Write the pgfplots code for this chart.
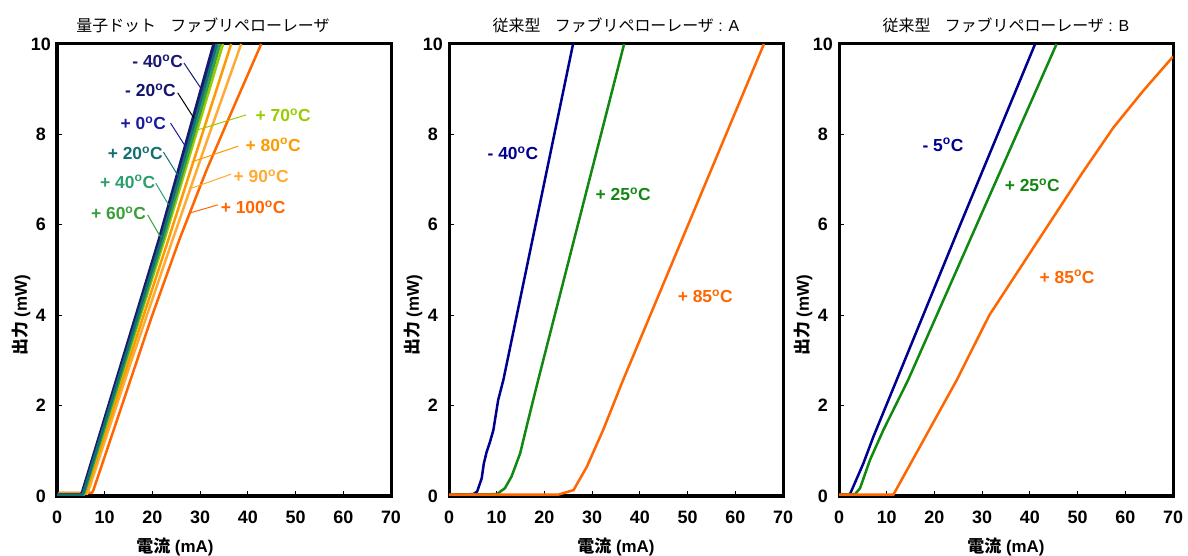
\documentclass[border=0pt]{standalone}
\usepackage{fontspec}
\setmainfont{Liberation Sans}
\newfontfamily\jp{Noto Sans CJK JP}
\usepackage{pgfplots}
\pgfplotsset{compat=1.18}
\newcommand{\dC}{\textsuperscript{o}C}
\definecolor{cA}{HTML}{191970}
\definecolor{cB}{HTML}{14146E}
\definecolor{cC}{HTML}{1A1AA0}
\definecolor{cD}{HTML}{137070}
\definecolor{cE}{HTML}{2E9E6E}
\definecolor{cF}{HTML}{3A9E3A}
\definecolor{cG}{HTML}{99CC00}
\definecolor{cH}{HTML}{FF9900}
\definecolor{cI}{HTML}{FFAA33}
\definecolor{cJ}{HTML}{FF6600}
\definecolor{mnavy}{HTML}{000090}
\definecolor{mgreen}{HTML}{118811}
\definecolor{morange}{HTML}{FF6600}
\tikzset{lbl/.style={font=\fontsize{17.5}{17.5}\selectfont\bfseries, inner sep=0pt}}
\pgfplotsset{panel/.style={
  scale only axis, width=334bp, height=452bp,
  xmin=0,xmax=70,ymin=0,ymax=10,
  xtick={0,10,...,70}, ytick={0,2,...,10},
  tick align=inside, xtick pos=bottom, ytick pos=left,
  major tick length=5bp,
  axis line style={line width=3bp},
  every tick/.style={black, line width=1bp},
  /pgf/number format/assume math mode=true,
  tick label style={font=\fontsize{18}{18}\selectfont\bfseries},
  xticklabel style={yshift=-11bp},
  yticklabel style={text width=24bp, align=center, inner sep=0pt, xshift=-4bp},
  title style={at={(axis description cs:0.5,1.014)},anchor=base,font=\fontsize{16}{16}\selectfont},
  xlabel style={at={(axis description cs:0.5,-0.124)},anchor=base,font=\fontsize{17}{17}\selectfont\bfseries},
  ylabel style={at={(axis description cs:-0.09,0.40)},anchor=base,font=\fontsize{17}{17}\selectfont\bfseries},
  xlabel={{\jp\bfseries 電流} (mA)},
  ylabel={{\jp\bfseries 出力} (mW)},
  every axis plot/.append style={line width=2.5bp, no marks},
}}
\begin{document}
\begin{tikzpicture}
\useasboundingbox (0,0) rectangle (1188bp,556bp);
% ---------------- Left panel
\begin{axis}[panel, at={(57bp,60bp)}, anchor=south west,
  title style={at={(axis description cs:0.437,1.014)}},
  xlabel style={at={(axis description cs:0.353,-0.124)}},
  title={{\jp 量子ドット\hspace{0.9em}ファブリペローレーザ}}]
\addplot[cJ] coordinates {(0.3,0.07)(7.3,0.07)(7.6,0.12)(13.6,2.0)(19.8,3.95)(25.6,5.66)(31.3,7.2)(37,8.6)(42.8,10)};
\addplot[cI] coordinates {(0.3,0.05)(6.3,0.05)(6.6,0.12)(15.3,2.9)(24.2,5.66)(31.4,7.85)(38.6,10)};
\addplot[cH] coordinates {(0.3,0.05)(5.9,0.05)(6.2,0.12)(23.3,5.66)(36.5,10)};
\addplot[cG] coordinates {(0,0.03)(5.6,0.03)(5.9,0.1)(22.5,5.66)(34.8,10)};
\addplot[cF] coordinates {(0,0.03)(5.5,0.03)(5.8,0.1)(22.2,5.66)(34.2,10)};
\addplot[cE] coordinates {(0,0.03)(5.4,0.03)(5.7,0.1)(22.0,5.66)(33.8,10)};
\addplot[cB] coordinates {(0,0.03)(5.1,0.03)(5.4,0.1)(21.5,5.66)(33.0,10)};
\addplot[cC] coordinates {(0,0.03)(5.2,0.03)(5.5,0.1)(21.6,5.66)(33.2,10)};
\addplot[cA] coordinates {(0,0.03)(5.0,0.03)(5.3,0.1)(21.3,5.66)(32.8,10)};
\addplot[cD] coordinates {(0,0.03)(5.3,0.03)(5.6,0.1)(21.8,5.66)(33.5,10)};
% labels and leaders
\draw[cA, line width=1bp] (axis cs:26.6,9.58) -- (axis cs:30.1,9.03);
\node[lbl, text=cA] at (axis cs:21.1,9.62) {- 40\dC};
\draw[black, line width=1bp] (axis cs:25.3,8.92) -- (axis cs:28.7,8.36);
\node[lbl, text=cB] at (axis cs:19.6,8.98) {- 20\dC};
\draw[cC, line width=1bp] (axis cs:23.8,8.25) -- (axis cs:27.0,7.72);
\node[lbl, text=cC] at (axis cs:18.1,8.25) {+ 0\dC};
\draw[cD, line width=1bp] (axis cs:22.3,7.61) -- (axis cs:25.3,7.10);
\node[lbl, text=cD] at (axis cs:16.4,7.59) {+ 20\dC};
\draw[cE, line width=1bp] (axis cs:20.7,6.92) -- (axis cs:23.4,6.44);
\node[lbl, text=cE] at (axis cs:14.8,6.95) {+ 40\dC};
\draw[cF, line width=1bp] (axis cs:19.0,6.22) -- (axis cs:21.7,5.73);
\node[lbl, text=cF] at (axis cs:12.9,6.26) {+ 60\dC};
\draw[cG, line width=1bp] (axis cs:39.6,8.43) -- (axis cs:29.5,8.10);
\node[lbl, text=cG] at (axis cs:47.4,8.43) {+ 70\dC};
\draw[cH, line width=1bp] (axis cs:38.0,7.74) -- (axis cs:28.2,7.39);
\node[lbl, text=cH] at (axis cs:45.3,7.77) {+ 80\dC};
\draw[cI, line width=1bp] (axis cs:36.5,7.12) -- (axis cs:28.2,6.81);
\node[lbl, text=cI] at (axis cs:42.8,7.08) {+ 90\dC};
\draw[cJ, line width=1bp] (axis cs:33.7,6.44) -- (axis cs:27.8,6.26);
\node[lbl, text=cJ] at (axis cs:41.1,6.39) {+ 100\dC};
\end{axis}
% ---------------- Middle panel
\begin{axis}[panel, at={(449bp,60bp)}, anchor=south west,
  title={{\jp 従来型\hspace{0.9em}ファブリペローレーザ} : A}]
\addplot[mnavy] coordinates {(0,0.03)(5.1,0.04)(5.9,0.1)(6.85,0.39)(7.3,0.72)(7.9,0.98)(8.6,1.2)(9.3,1.46)(10.3,2.12)(11.4,2.57)(26.0,10)};
\addplot[mgreen] coordinates {(0,0.03)(10.0,0.04)(11.7,0.17)(13.1,0.43)(14.9,0.94)(16.6,1.68)(18.7,2.57)(36.7,10)};
\addplot[morange] coordinates {(0,0.03)(22.9,0.03)(26.1,0.13)(28.9,0.65)(32.3,1.46)(36.5,2.57)(66.0,10)};
\node[lbl, text=mnavy] at (axis cs:13.4,7.59) {- 40\dC};
\node[lbl, text=mgreen] at (axis cs:36.5,6.68) {+ 25\dC};
\node[lbl, text=morange] at (axis cs:53.7,4.42) {+ 85\dC};
\end{axis}
% ---------------- Right panel
\begin{axis}[panel, at={(839bp,60bp)}, anchor=south west,
  title={{\jp 従来型\hspace{0.9em}ファブリペローレーザ} : B}]
\addplot[mnavy] coordinates {(0,0.03)(2.3,0.04)(5.1,0.72)(7.2,1.31)(12.1,2.57)(25.4,6)(41.1,10)};
\addplot[mgreen] coordinates {(0,0.03)(3.35,0.04)(4.4,0.17)(6.5,0.8)(9.3,1.46)(14.5,2.57)(45.6,10)};
\addplot[morange] coordinates {(0,0.03)(11.4,0.03)(24.7,2.57)(31.5,4.0)(44.5,6.1)(51,7.15)(57.5,8.15)(63.8,8.97)(70,9.72)};
\node[lbl, text=mnavy] at (axis cs:21.8,7.77) {- 5\dC};
\node[lbl, text=mgreen] at (axis cs:40.5,6.88) {+ 25\dC};
\node[lbl, text=morange] at (axis cs:47.8,4.85) {+ 85\dC};
\end{axis}
\end{tikzpicture}
\end{document}
